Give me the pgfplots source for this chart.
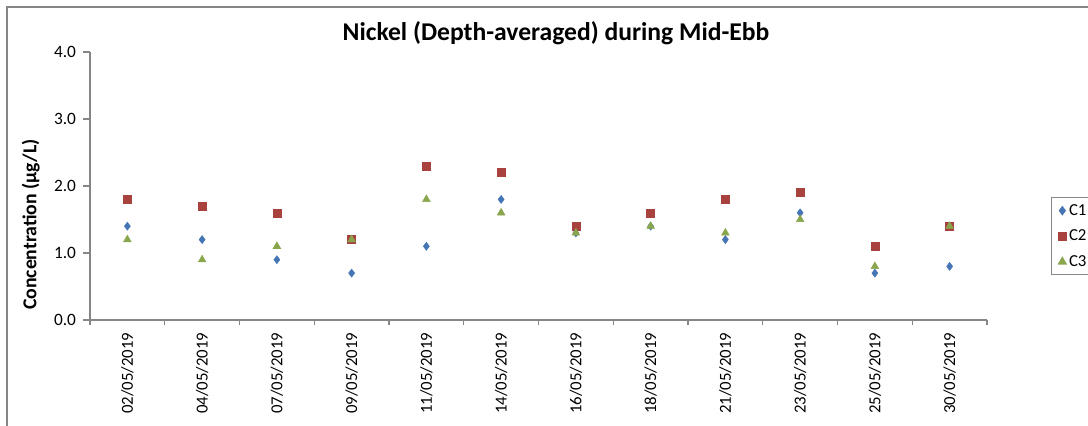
\documentclass[border=0pt]{standalone}
\usepackage{pgfplots}
\pgfplotsset{compat=1.18}
\usepackage{fontspec}
\setmainfont{Carlito}
\definecolor{cone}{HTML}{4575B4}
\definecolor{ctwo}{HTML}{A8423E}
\definecolor{cthree}{HTML}{89A64C}
\definecolor{axgray}{HTML}{868686}
\begin{document}
\begin{tikzpicture}
\useasboundingbox (0pt,0pt) rectangle (816pt,318.75pt);
\clip (0pt,0pt) rectangle (816pt,318.75pt);
\draw[axgray,line width=0.9pt] (5.25pt,-15pt) rectangle (840pt,313.5pt);
\begin{axis}[
  at={(67.5pt,78.75pt)}, anchor=south west,
  scale only axis, width=672.75pt, height=201pt,
  xmin=-0.5, xmax=11.5, ymin=0, ymax=4,
  axis x line*=bottom, axis y line*=left,
  axis line style={axgray, line width=0.8pt},
  xtick={0,...,11},
  xticklabels={02/05/2019,04/05/2019,07/05/2019,09/05/2019,11/05/2019,14/05/2019,16/05/2019,18/05/2019,21/05/2019,23/05/2019,25/05/2019,30/05/2019},
  x tick label style={rotate=90, anchor=east, font=\fontsize{12.6}{14}\selectfont, xshift=-1pt},
  major x tick style={draw=none},
  minor xtick={-0.5,0.5,...,11.5},
  minor x tick style={axgray, line width=0.8pt},
  ytick={0,1,2,3,4},
  y tick label style={font=\fontsize{13}{15}\selectfont, xshift=-2pt},
  yticklabel style={/pgf/number format/.cd, fixed, fixed zerofill, precision=1, assume math mode=true},
  tick style={axgray, line width=0.8pt},
  tick align=outside,
  major tick length=5pt, minor tick length=4pt,
  title={\bfseries Nickel (Depth-averaged) during Mid-Ebb},
  title style={font=\fontsize{19.2}{22}\selectfont, at={(axis description cs:0.5195,1.04)}, anchor=center},
  ylabel={\bfseries Concentration (µg/L)},
  every axis y label/.style={at={(axis description cs:-0.066,0.356)}, rotate=90, anchor=center, font=\fontsize{14.8}{16}\selectfont},
  legend style={at={(axis description cs:1.0715,0.459)}, anchor=north west, draw=axgray, line width=0.8pt, font=\fontsize{12.6}{14}\selectfont, row sep=5.5pt, inner ysep=3pt, inner xsep=5pt},
  legend cell align=left,
  clip=false,
]
\addplot[only marks, mark=diamond*, mark size=3pt, color=cone] coordinates {
(0,1.4)(1,1.2)(2,0.9)(3,0.7)(4,1.1)(5,1.8)(6,1.3)(7,1.4)(8,1.2)(9,1.6)(10,0.7)(11,0.8)};
\addlegendentry{C1}
\addplot[only marks, mark=square*, mark size=3pt, color=ctwo] coordinates {
(0,1.8)(1,1.7)(2,1.6)(3,1.2)(4,2.3)(5,2.2)(6,1.4)(7,1.6)(8,1.8)(9,1.9)(10,1.1)(11,1.4)};
\addlegendentry{C2}
\addplot[only marks, mark=triangle*, mark size=3.3pt, color=cthree] coordinates {
(0,1.2)(1,0.9)(2,1.1)(3,1.2)(4,1.8)(5,1.6)(6,1.3)(7,1.4)(8,1.3)(9,1.5)(10,0.8)(11,1.4)};
\addlegendentry{C3}
\end{axis}
\end{tikzpicture}
\end{document}
